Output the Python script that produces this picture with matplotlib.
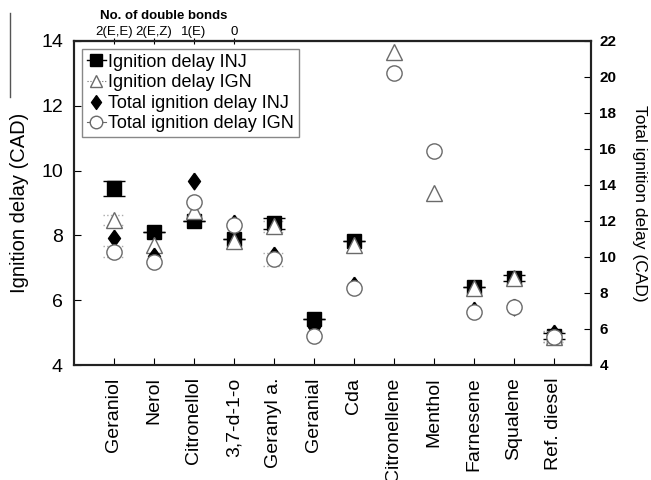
import numpy as np
import matplotlib
matplotlib.use('Agg')
import matplotlib.pyplot as plt
from matplotlib.lines import Line2D

plt.rcParams['font.family'] = ['Liberation Sans', 'DejaVu Sans']

# Data
fuels = ['Geraniol', 'Nerol', 'Citronellol', '3,7-d-1-o', 'Geranyl a.', 'Geranial',
         'Cda', 'Citronellene', 'Menthol', 'Farnesene', 'Squalene', 'Ref. diesel']
bond_labels = ['2(E,E)', '2(E,Z)', '1(E)', '0']

nan = np.nan
# ignition delay (left axis, CAD)
ign_inj = [9.46, 8.11, 8.44, 7.88, 8.37, 5.43, 7.84, nan, nan, 6.42, 6.68, 4.90]
ign_inj_err = [0.23, 0.0, 0.0, 0.0, 0.17, 0.0, 0.0, nan, nan, 0.0, 0.10, 0.10]
ign_ign = [8.48, 7.70, 8.75, 7.82, 8.28, nan, 7.70, 13.66, 9.31, 6.39, 6.69, 4.87]
ign_ign_err = [0.16, 0.0, 0.0, 0.0, 0.17, nan, 0.0, 0.0, 0.0, 0.0, 0.0, 0.15]
# total ignition delay (right axis, CAD)
tot_inj = [11.06, 10.06, 14.22, 11.90, 10.09, 6.09, 8.43, nan, nan, 7.06, 7.24, 5.75]
tot_ign = [10.29, 9.74, 13.04, 11.80, 9.87, 5.61, 8.26, 20.22, 15.89, 6.93, 7.22, 5.57]
tot_ign_err = [0.30, 0.0, 0.0, 0.0, 0.35, 0.0, 0.0, 0.0, 0.0, 0.0, 0.0, 0.30]

x = np.arange(1, len(fuels) + 1)
grey = '#6a6a6a'
diamond = [(0, 1), (0.72, 0), (0, -1), (-0.72, 0), (0, 1)]

fig = plt.figure(figsize=(6.51, 4.8), dpi=100)
ax = fig.add_axes([74 / 651, 1 - 365 / 480, 517 / 651, 324 / 480])
ax2 = ax.twinx()

# left axis series
ax.errorbar(x, ign_inj, yerr=ign_inj_err, fmt='s', ms=9.5, color='black',
            ecolor='black', elinewidth=1, capsize=8, capthick=1, zorder=3)
ign_ign_a = np.array(ign_ign)
ign_ign_e = np.array(ign_ign_err)
ax.errorbar(x, ign_ign, yerr=ign_ign_err, fmt='none', ecolor='#aaaaaa',
            elinewidth=0.8, linestyle=':', zorder=2)
m = ign_ign_e > 0
ax.hlines(np.r_[ign_ign_a[m] - ign_ign_e[m], ign_ign_a[m] + ign_ign_e[m]],
          np.r_[x[m], x[m]] - 0.28, np.r_[x[m], x[m]] + 0.28,
          colors='#aaaaaa', linestyles=':', linewidth=1, zorder=2)
ax.plot(x, ign_ign, '^', ms=11, mfc='white', mec=grey, mew=1, zorder=4)

# right axis series
ax2.plot(x, tot_inj, marker=diamond, ls='none', ms=12, color='black', zorder=3)
tot_ign_a = np.array(tot_ign)
tot_ign_e = np.array(tot_ign_err)
m2 = tot_ign_e > 0
ax2.errorbar(x, tot_ign, yerr=tot_ign_err, fmt='none', ecolor='#aaaaaa',
             elinewidth=0.8, zorder=2)
ax2.hlines(np.r_[tot_ign_a[m2] - tot_ign_e[m2], tot_ign_a[m2] + tot_ign_e[m2]],
           np.r_[x[m2], x[m2]] - 0.28, np.r_[x[m2], x[m2]] + 0.28,
           colors='#aaaaaa', linestyles=':', linewidth=1, zorder=2)
ax2.plot(x, tot_ign, 'o', ms=11, mfc='white', mec=grey, mew=1, zorder=4)

# axes
ax.set_xlim(0, 12.93)
ax.set_ylim(4, 14)
ax.set_yticks(np.arange(4, 15, 2))
ax2.set_ylim(4, 22)
ax2.set_yticks(np.arange(4, 23, 2))
ax.set_xticks(x)
ax.set_xticklabels(fuels, rotation=90, fontsize=14)
ax.tick_params(axis='x', direction='in', length=5, pad=9, top=False)
ax.tick_params(axis='y', direction='in', length=5, pad=8, labelsize=14)
ax2.tick_params(axis='y', direction='in', length=5, pad=6, labelsize=11)
for lab in ax2.get_yticklabels():
    lab.set_fontweight('bold')
ax.set_ylabel('Ignition delay (CAD)', fontsize=14.5, labelpad=9)
ax2.set_ylabel('Total ignition delay (CAD)', fontsize=12.5, rotation=270,
               labelpad=22)

for a in (ax, ax2):
    for s in a.spines.values():
        s.set_linewidth(1.5)
        s.set_color('#222222')

# top axis: number of double bonds
top = ax.secondary_xaxis('top')
top.set_xticks(x[:len(bond_labels)])
top.set_xticklabels(bond_labels, fontsize=9.5)
top.tick_params(direction='inout', length=5, pad=0)
top.spines['top'].set_linewidth(1.5)
fig.text(164 / 651, 1 - 16 / 480, 'No. of double bonds', fontsize=9.5,
         fontweight='bold', ha='center', va='center')

# stray edge line from the page
fig.add_artist(Line2D([9.5 / 651, 9.5 / 651], [1 - 13 / 480, 1 - 97 / 480],
                      color='#555555', lw=1))

handles = [
    Line2D([], [], color='black', marker='s', ms=8, lw=1),
    Line2D([], [], color=grey, marker='^', ms=9, mfc='white', lw=0.8, ls=':'),
    Line2D([], [], color='black', marker=diamond, ms=10, lw=0),
    Line2D([], [], color=grey, marker='o', ms=9, mfc='white', lw=0.8),
]
labels = ['Ignition delay INJ', 'Ignition delay IGN',
          'Total ignition delay INJ', 'Total ignition delay IGN']
leg = ax2.legend(handles, labels, loc='upper left', bbox_to_anchor=(0.0155, 0.975),
                 borderaxespad=0, fontsize=13, handlelength=1.1, handletextpad=0.1,
                 labelspacing=0.2, borderpad=0.25, fancybox=False, framealpha=1,
                 edgecolor='#888888')
leg.get_frame().set_linewidth(1)

fig.savefig('out.png', dpi=100)
